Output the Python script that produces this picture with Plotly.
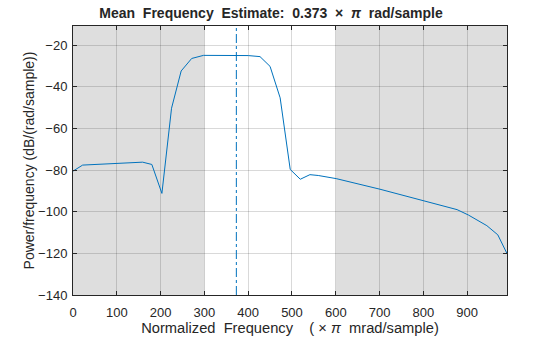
import plotly.graph_objects as go

freq = [0, 22, 159, 180, 203, 225, 247, 271, 298, 400, 427, 450, 473, 496, 519,
        541, 560, 601, 701, 803, 877, 903, 926, 945, 970, 991]
power = [-80.5, -77.6, -76.2, -77.3, -91.2, -50.3, -32.4, -26.4, -24.9, -25.0, -25.5,
         -30.2, -45.3, -79.7, -84.4, -82.2, -82.6, -84.1, -89.2, -94.8, -99.0, -101.6,
         -104.3, -106.7, -111.1, -120.1]
mean_freq = 373
band_low = 300
band_high = 600
x_max = 991
y_range = [-140, -10.8]
x_ticks = [0, 100, 200, 300, 400, 500, 600, 700, 800, 900]
y_ticks = [-140, -120, -100, -80, -60, -40, -20]

blue = "#0072BD"
font = "Liberation Sans, Arial, Helvetica, sans-serif"

fig = go.Figure()
fig.add_trace(go.Scatter(x=freq, y=power, mode="lines",
                         line=dict(color=blue, width=1), showlegend=False))
fig.add_trace(go.Scatter(x=[mean_freq, mean_freq], y=y_range, mode="lines",
                         line=dict(color=blue, width=1, dash="dashdot"), showlegend=False))

fig.add_shape(type="rect", xref="x", yref="paper", x0=0, x1=band_low, y0=0, y1=1,
              fillcolor="#dedede", line=dict(width=0), layer="below")
fig.add_shape(type="rect", xref="x", yref="paper", x0=band_high, x1=x_max, y0=0, y1=1,
              fillcolor="#dedede", line=dict(width=0), layer="below")

axis_common = dict(showline=True, linecolor="#262626", linewidth=1, mirror="ticks",
                   ticks="inside", ticklen=4, tickcolor="#262626", automargin=False,
                   showgrid=True, gridcolor="rgba(0,0,0,0.15)", gridwidth=1,
                   zeroline=False, tickfont=dict(family=font, size=13, color="#262626"))

fig.update_xaxes(range=[0, x_max], tickvals=x_ticks, ticklabelstandoff=5, **axis_common,
                 title=dict(text="Normalized  Frequency    ( × <i>π</i>  mrad/sample)",
                            font=dict(family=font, size=14.7, color="#262626"), standoff=3))
fig.update_yaxes(range=y_range, tickvals=y_ticks, ticklabelstandoff=2, **axis_common,
                 title=dict(text="Power/frequency (dB/(rad/sample))",
                            font=dict(family=font, size=14, color="#262626"), standoff=0))

fig.update_layout(
    width=560, height=337,
    margin=dict(l=73, r=53, t=26, b=42),
    paper_bgcolor="white", plot_bgcolor="white",
    title=dict(text="<b>Mean  Frequency  Estimate:  0.373  ×  <i>π</i>  rad/sample</b>",
               x=271 / 560, xanchor="center", y=1 - 13 / 337, yanchor="middle",
               font=dict(family=font, size=14, color="#262626")),
)

fig.write_html("out.html")
